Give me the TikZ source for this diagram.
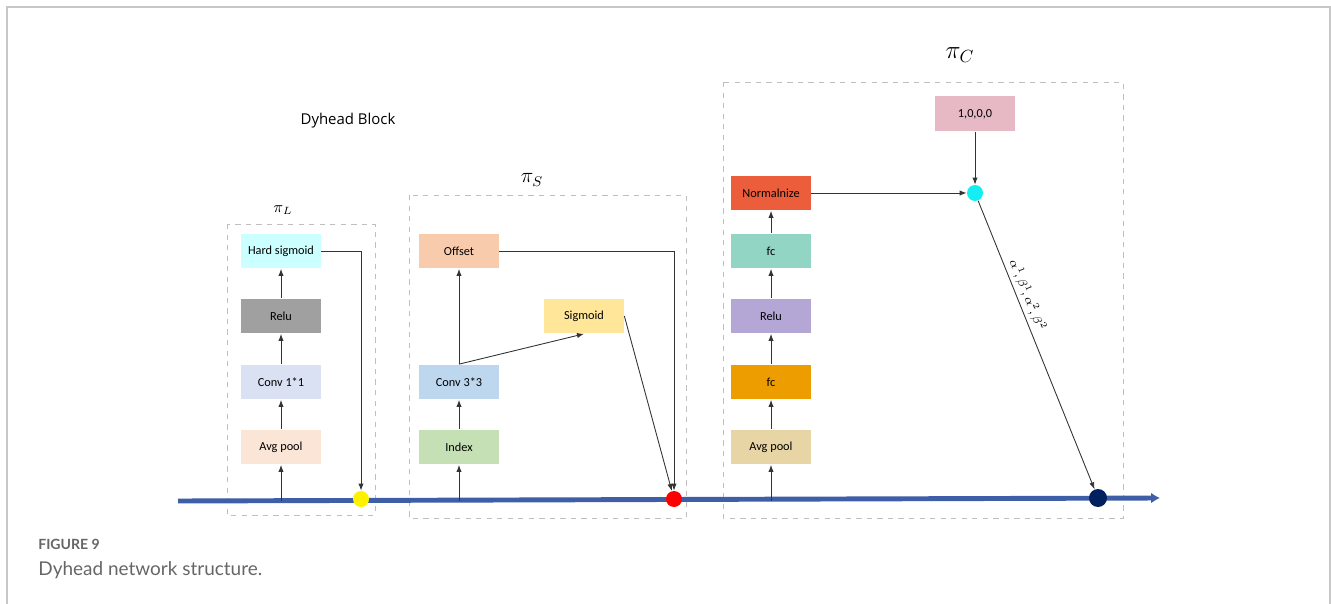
\documentclass[tikz,border=0pt]{standalone}
\usepackage{fontspec}
\setmainfont{Carlito}
\newfontfamily\headfont{Open Sans}
\newfontfamily\capfont{Lato}
\usepackage{xcolor}
\usetikzlibrary{positioning,arrows.meta}

\definecolor{spineblue}{HTML}{3F5EA8}
\definecolor{cHsig}{HTML}{CCFFFF}
\definecolor{cRelu}{HTML}{A0A0A0}
\definecolor{cConvA}{HTML}{DAE1F3}
\definecolor{cPoolA}{HTML}{FBE5D6}
\definecolor{cOffset}{HTML}{F8CBAD}
\definecolor{cConvB}{HTML}{BDD7EE}
\definecolor{cIndex}{HTML}{C5E0B4}
\definecolor{cSigm}{HTML}{FFE699}
\definecolor{cOnes}{HTML}{E6B9C4}
\definecolor{cNorm}{HTML}{EC5D3B}
\definecolor{cFcA}{HTML}{93D5C4}
\definecolor{cReluB}{HTML}{B4A7D6}
\definecolor{cFcB}{HTML}{ED9D00}
\definecolor{cPoolB}{HTML}{E8D5A5}
\definecolor{cNavy}{HTML}{002060}
\definecolor{cCyan}{HTML}{14EEF2}
\definecolor{capgrey}{HTML}{666666}

\begin{document}
\begin{tikzpicture}[x=0.02cm,y=-0.02cm,
    >={Latex[length=4pt,width=3pt]},
    block/.style={minimum width=1.6cm,minimum height=0.7cm,inner sep=0pt,font=\fontsize{7}{8}\selectfont},
    part/.style={draw=black!25,dashed,line width=0.5pt},
    link/.style={->,draw=black!80,line width=0.5pt},
    dot/.style={circle,inner sep=0pt,minimum size=0.32cm}]
    \useasboundingbox (0,0) rectangle (1331,604);

    % Frame
    \draw [black!22, line width=1.2pt] (7,604) -- (7,7) -- (1330,7) -- (1330,604);
    \node [font=\headfont\fontsize{8.5}{10}\selectfont] (title) at (348,121) {Dyhead Block};

    % Groups
    \draw [part] (227,224) rectangle (375,515);
    \draw [part] (409,195) rectangle (686,518);
    \draw [part] (723,82) rectangle (1123,518);
    \node [font=\fontsize{9}{10}\selectfont] (piL) at (283,210) {$\pi_L$};
    \node [font=\fontsize{12}{14}\selectfont] (piS) at (532,180) {$\pi_S$};
    \node [font=\fontsize{14}{16}\selectfont] (piC) at (960,55) {$\pi_C$};

    % Main line
    \coordinate (start) at (178,501);
    \coordinate (end) at (1160,498);
    \draw [spineblue, line width=2.8pt, -{Latex[length=5pt,width=6pt]}] (start) -- (end);

    % Pi L
    \node [block, fill=cPoolA] (poolA) at (281,447) {Avg pool};
    \node [block, fill=cConvA] (convA) at (281,382) {Conv 1*1};
    \node [block, fill=cRelu] (reluA) at (281,316) {Relu};
    \node [block, fill=cHsig] (hsig) at (281,251) {Hard sigmoid};
    \node [dot, fill=yellow] (gateL) at (361,499) {};
    \draw [link] (poolA |- start) -- (poolA);
    \draw [link] (poolA) -- (convA);
    \draw [link] (convA) -- (reluA);
    \draw [link] (reluA) -- (hsig);
    \draw [link] (hsig.east) -| (gateL);

    % Pi S
    \node [block, fill=cIndex] (index) at (459,447) {Index};
    \node [block, fill=cConvB] (convB) at (459,382) {Conv 3*3};
    \node [block, fill=cOffset] (offset) at (459,251) {Offset};
    \node [block, fill=cSigm] (sigm) at (584,316) {Sigmoid};
    \node [dot, fill=red] (gateS) at (674,499) {};
    \draw [link] (index |- start) -- (index);
    \draw [link] (index) -- (convB);
    \draw [link] (convB) -- (offset);
    \draw [link] (convB.north) -- (sigm.south);
    \draw [link] (offset.east) -| (gateS);
    \draw [link] (sigm.east) -- (gateS);

    % Pi C
    \node [block, fill=cPoolB] (poolB) at (771,447) {Avg pool};
    \node [block, fill=cFcB] (fcB) at (771,382) {fc};
    \node [block, fill=cReluB] (reluB) at (771,316) {Relu};
    \node [block, fill=cFcA] (fcA) at (771,251) {fc};
    \node [block, fill=cNorm] (norm) at (771,193) {Normalnize};
    \node [block, fill=cOnes] (ones) at (975,114) {1,0,0,0};
    \node [dot, fill=cCyan] (mix) at (975,193) {};
    \node [dot, fill=cNavy, minimum size=0.36cm] (gateC) at (1098,498) {};
    \draw [link] (poolB |- start) -- (poolB);
    \draw [link] (poolB) -- (fcB);
    \draw [link] (fcB) -- (reluB);
    \draw [link] (reluB) -- (fcA);
    \draw [link] (fcA) -- (norm);
    \draw [link] (norm) -- (mix);
    \draw [link] (ones) -- (mix);
    \draw [link] (mix) -- node [sloped, above, pos=0.34, inner sep=2pt, font=\fontsize{7}{8}\selectfont] {$\alpha^{1}\!,\beta^{1}\!,\alpha^{2}\!,\beta^{2}$} (gateC);

    % Caption
    \node [anchor=west, inner sep=0pt, text=capgrey, font=\capfont\bfseries\fontsize{8}{9}\selectfont] (figno) at (38,544) {FIGURE 9};
    \node [anchor=west, inner sep=0pt, text=capgrey, font=\capfont\fontsize{10.8}{12}\selectfont] (figcap) at (38,570) {Dyhead network structure.};
\end{tikzpicture}
\end{document}
